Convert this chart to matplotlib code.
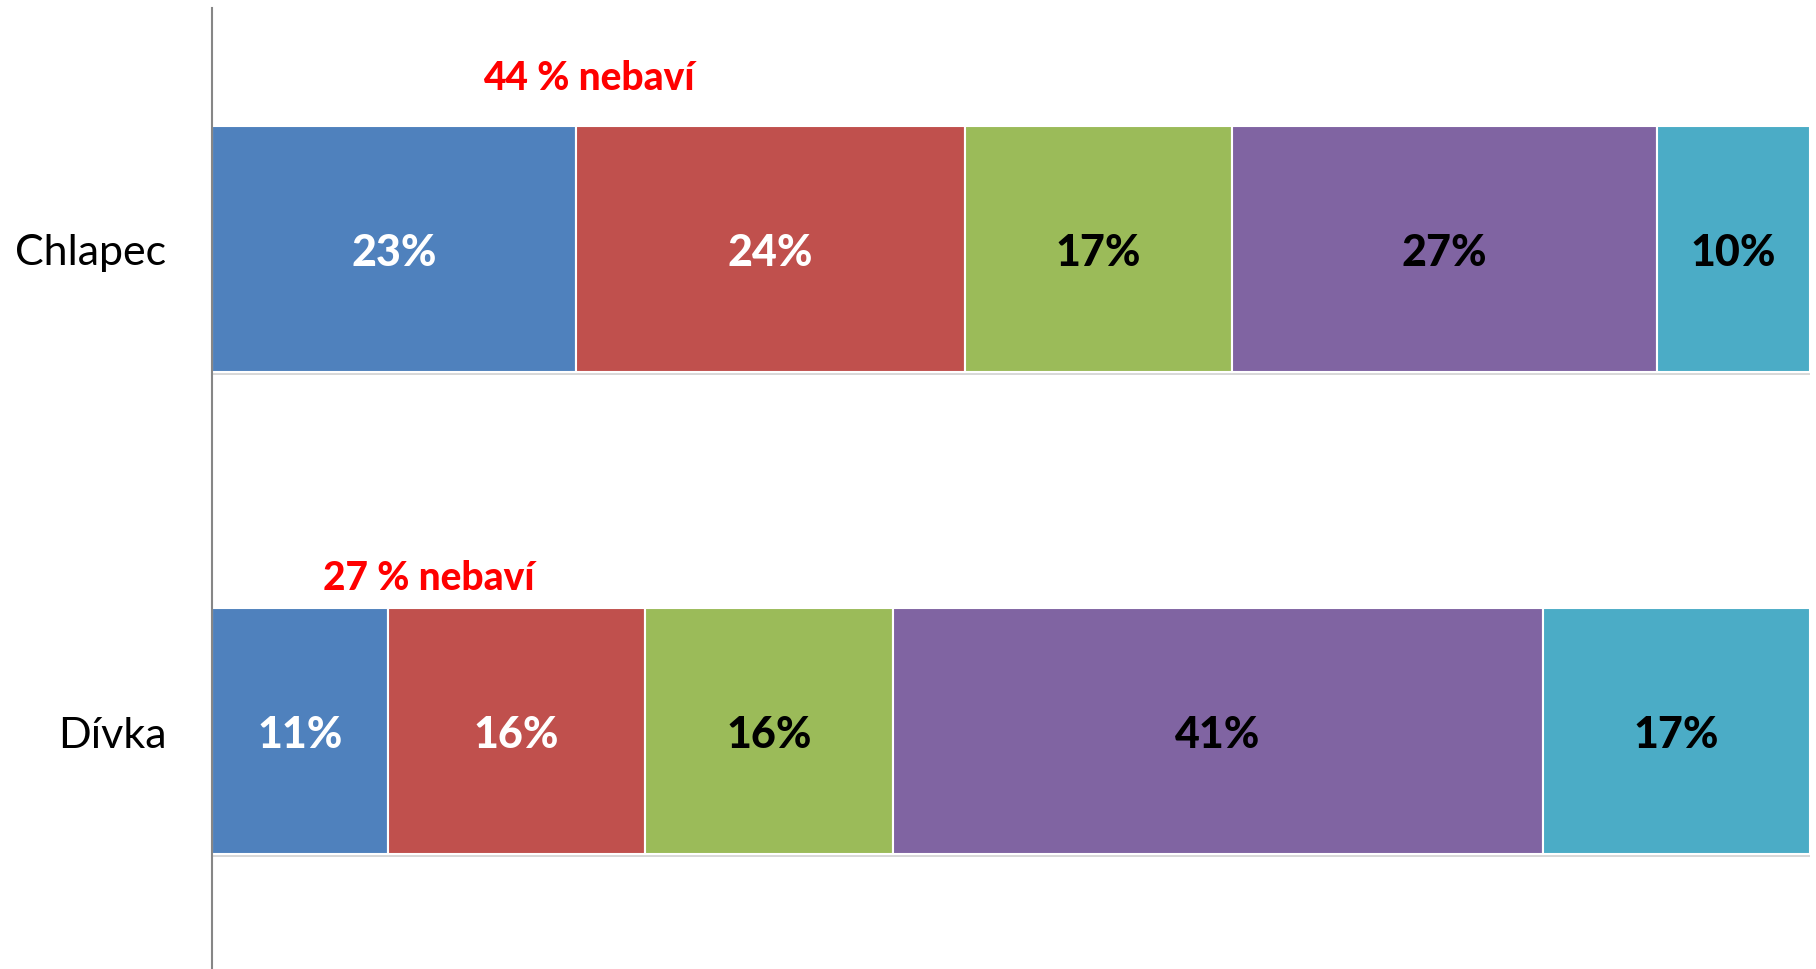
import numpy as np
import matplotlib
matplotlib.use("Agg")
import matplotlib.pyplot as plt
import matplotlib.patheffects as pe

plt.rcParams['font.family'] = ['Lato', 'DejaVu Sans']

categories = ["Chlapec", "Dívka"]
series_colors = ["#4F81BD", "#C0504D", "#9BBB59", "#8064A2", "#4BACC6"]
label_colors = ["white", "white", "black", "black", "black"]
chlapec = [22.8, 24.3, 16.7, 26.6, 9.6]
divka = [11.0, 16.1, 15.5, 40.7, 16.7]
nebavi = [44, 27]
nebavi_offsets = [-0.10, -0.063]  # text centre above bar top, in data units

values = np.array([chlapec, divka])

fig = plt.figure(figsize=(18.16, 9.70), dpi=100)
ax = fig.add_axes([212 / 1816, -3 / 970, (1810 - 212) / 1816, 964 / 970])

y = np.arange(len(categories))
height = 0.51
left = np.zeros(len(categories))
shadow = [pe.SimplePatchShadow(offset=(0.8, -2.5), shadow_rgbFace='#808080', alpha=0.3),
          pe.Normal()]
for i in range(values.shape[1]):
    bars = ax.barh(y, values[:, i], left=left, height=height,
                   color=series_colors[i], edgecolor='white', linewidth=1.5,
                   path_effects=shadow)
    for j, b in enumerate(bars):
        ax.text(left[j] + values[j, i] / 2, y[j], f"{round(values[j, i])}%",
                ha='center', va='center_baseline', fontsize=31, fontweight='black',
                color=label_colors[i])
    left += values[:, i]

for j in range(len(categories)):
    xc = values[j, :2].sum() / 2
    ax.text(xc, y[j] - height / 2 + nebavi_offsets[j], f"{nebavi[j]} % nebaví",
            ha='center', va='center', fontsize=28, fontweight='black', color='red')

ax.set_xlim(0, 100)
ax.set_ylim(1.5, -0.5)
ax.set_yticks(y)
ax.set_yticklabels(categories, fontsize=31)
ax.tick_params(axis='y', length=0, pad=33)
ax.set_xticks([])
for s in ['top', 'right', 'bottom']:
    ax.spines[s].set_visible(False)
ax.spines['left'].set_color('#868686')
ax.spines['left'].set_linewidth(1.5)

fig.savefig("out.png", dpi=100)
